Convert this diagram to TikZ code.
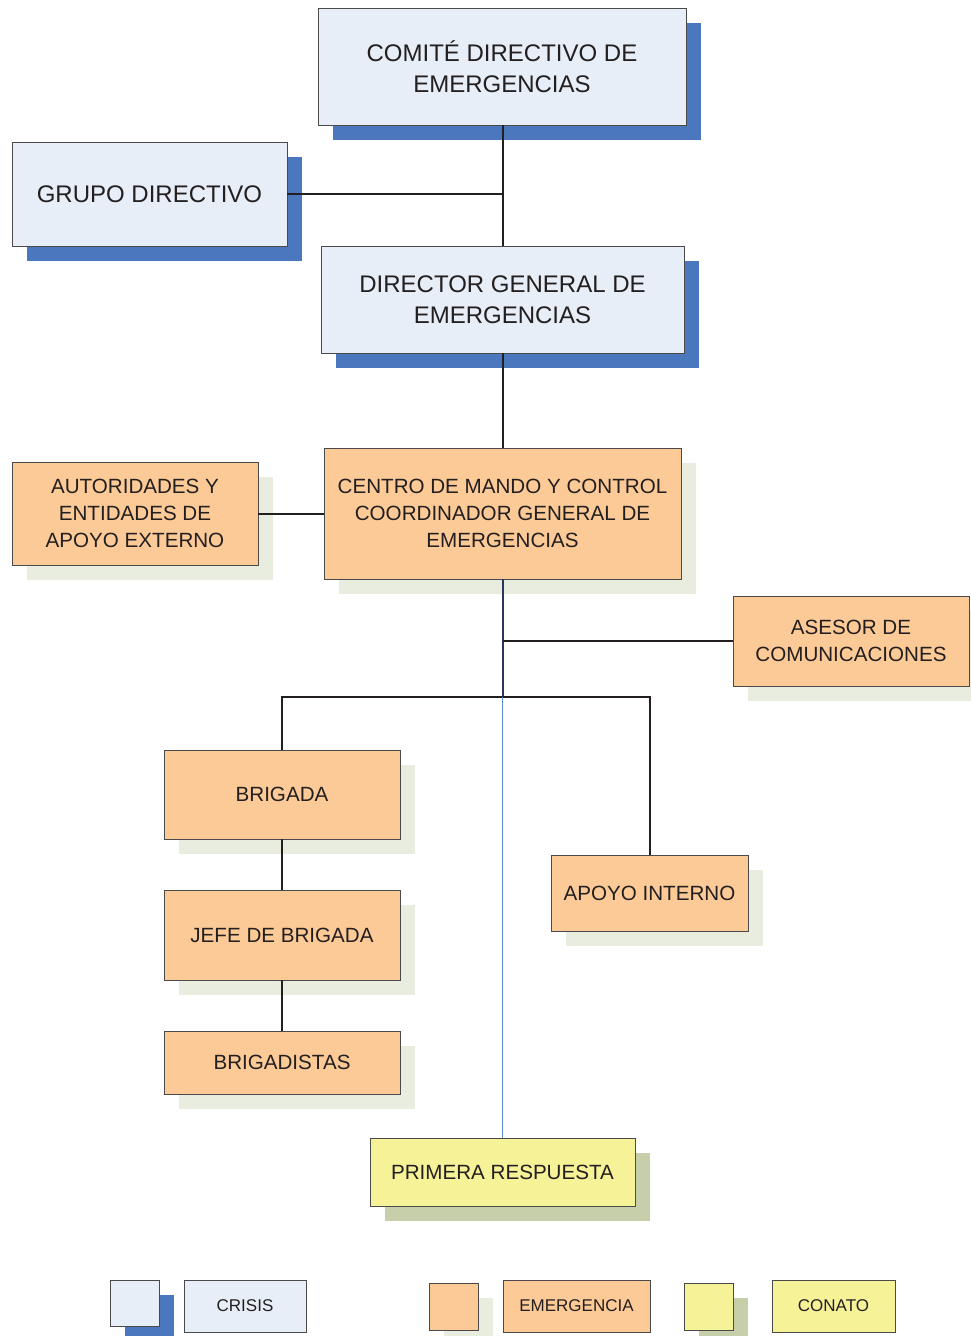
\documentclass[tikz,border=0pt]{standalone}
\usepackage{fontspec}
\setmainfont{Liberation Sans}
\usetikzlibrary{shadows}
\definecolor{crisisfill}{HTML}{E7EEF7}
\definecolor{crisisshadow}{HTML}{4A77BE}
\definecolor{emfill}{HTML}{FCCA96}
\definecolor{emshadow}{HTML}{E9EDDF}
\definecolor{cofill}{HTML}{F6F297}
\definecolor{coshadow}{HTML}{C6CFA9}
\definecolor{boxline}{HTML}{4A4A4A}
\definecolor{txt}{HTML}{231F20}
\definecolor{darkconn}{HTML}{26385E}
\definecolor{lightconn}{HTML}{5B8DD6}
\tikzset{
  basebox/.style={draw=boxline, line width=1pt, inner sep=0pt, outer sep=0pt,
    align=center, text=txt},
  crisisbox/.style={basebox, fill=crisisfill,
    drop shadow={shadow xshift=15pt, shadow yshift=-15pt, fill=crisisshadow, opacity=1},
    font=\fontsize{24}{31}\selectfont},
  embox/.style={basebox, fill=emfill,
    drop shadow={shadow xshift=15pt, shadow yshift=-15pt, fill=emshadow, opacity=1},
    font=\fontsize{20.6}{27}\selectfont},
  cobox/.style={basebox, fill=cofill,
    drop shadow={shadow xshift=15pt, shadow yshift=-15pt, fill=coshadow, opacity=1},
    font=\fontsize{20.6}{27}\selectfont},
  legendbox/.style={basebox, font=\fontsize{17}{20}\selectfont},
  conn/.style={draw=txt, line width=2pt},
}
\begin{document}
\begin{tikzpicture}[x=1pt, y=-1pt]
\useasboundingbox (0,0) rectangle (971,1336);
% boxes
\node[crisisbox, minimum width=368, minimum height=117] (comite) at (502,66.5) {COMITÉ DIRECTIVO DE\\EMERGENCIAS};
\node[crisisbox, minimum width=275, minimum height=104] (grupo) at (149.5,194) {GRUPO DIRECTIVO};
\node[crisisbox, minimum width=363, minimum height=107] (director) at (502.5,299.5) {DIRECTOR GENERAL DE\\EMERGENCIAS};
\node[embox, minimum width=246, minimum height=103] (autoridades) at (135,513.5) {AUTORIDADES Y\\ENTIDADES DE\\APOYO EXTERNO};
\node[embox, minimum width=357, minimum height=131] (centro) at (502.5,513.5) {CENTRO DE MANDO Y CONTROL\\COORDINADOR GENERAL DE\\EMERGENCIAS};
\node[embox, minimum width=236, minimum height=90] (asesor) at (851,641) {ASESOR DE\\COMUNICACIONES};
\node[embox, minimum width=236, minimum height=89] (brigada) at (282,794.5) {BRIGADA};
\node[embox, minimum width=236, minimum height=90] (jefe) at (282,935) {JEFE DE BRIGADA};
\node[embox, minimum width=236, minimum height=63] (brigadistas) at (282,1062.5) {BRIGADISTAS};
\node[embox, minimum width=197, minimum height=76] (apoyo) at (649.5,893) {APOYO INTERNO};
\node[cobox, minimum width=265, minimum height=68] (primera) at (502.5,1172) {PRIMERA RESPUESTA};
% legend
\node[crisisbox, minimum width=49, minimum height=46] (lcrisis) at (134.5,1303) {};
\node[legendbox, fill=crisisfill, minimum width=122, minimum height=52] (tcrisis) at (245,1306) {CRISIS};
\node[embox, minimum width=49, minimum height=47] (lem) at (453.5,1306.5) {};
\node[legendbox, fill=emfill, minimum width=147, minimum height=52] (tem) at (576.5,1306) {EMERGENCIA};
\node[cobox, minimum width=49, minimum height=47] (lco) at (708.5,1306.5) {};
\node[legendbox, fill=cofill, minimum width=123, minimum height=52] (tco) at (833.5,1306) {CONATO};
% connectors
\coordinate (j) at (502.5,697);
\draw[conn] (comite.south -| director.north) -- (director.north);
\draw[conn] (grupo.east) -- (grupo.east -| director.north);
\draw[conn] (director.south) -- (centro.north);
\draw[conn] (autoridades.east) -- (autoridades.east -| centro.west);
\draw[conn, draw=darkconn] (centro.south) -- (j);
\draw[conn] (asesor.west) -- (asesor.west -| centro.south);
\draw[conn] (brigada.north) |- (j) -| (apoyo.north);
\draw[conn] (brigada.south) -- (jefe.north);
\draw[conn] (jefe.south) -- (brigadistas.north);
\draw[draw=lightconn, line width=0.8pt] (j) -- (primera.north);
\end{tikzpicture}
\end{document}
